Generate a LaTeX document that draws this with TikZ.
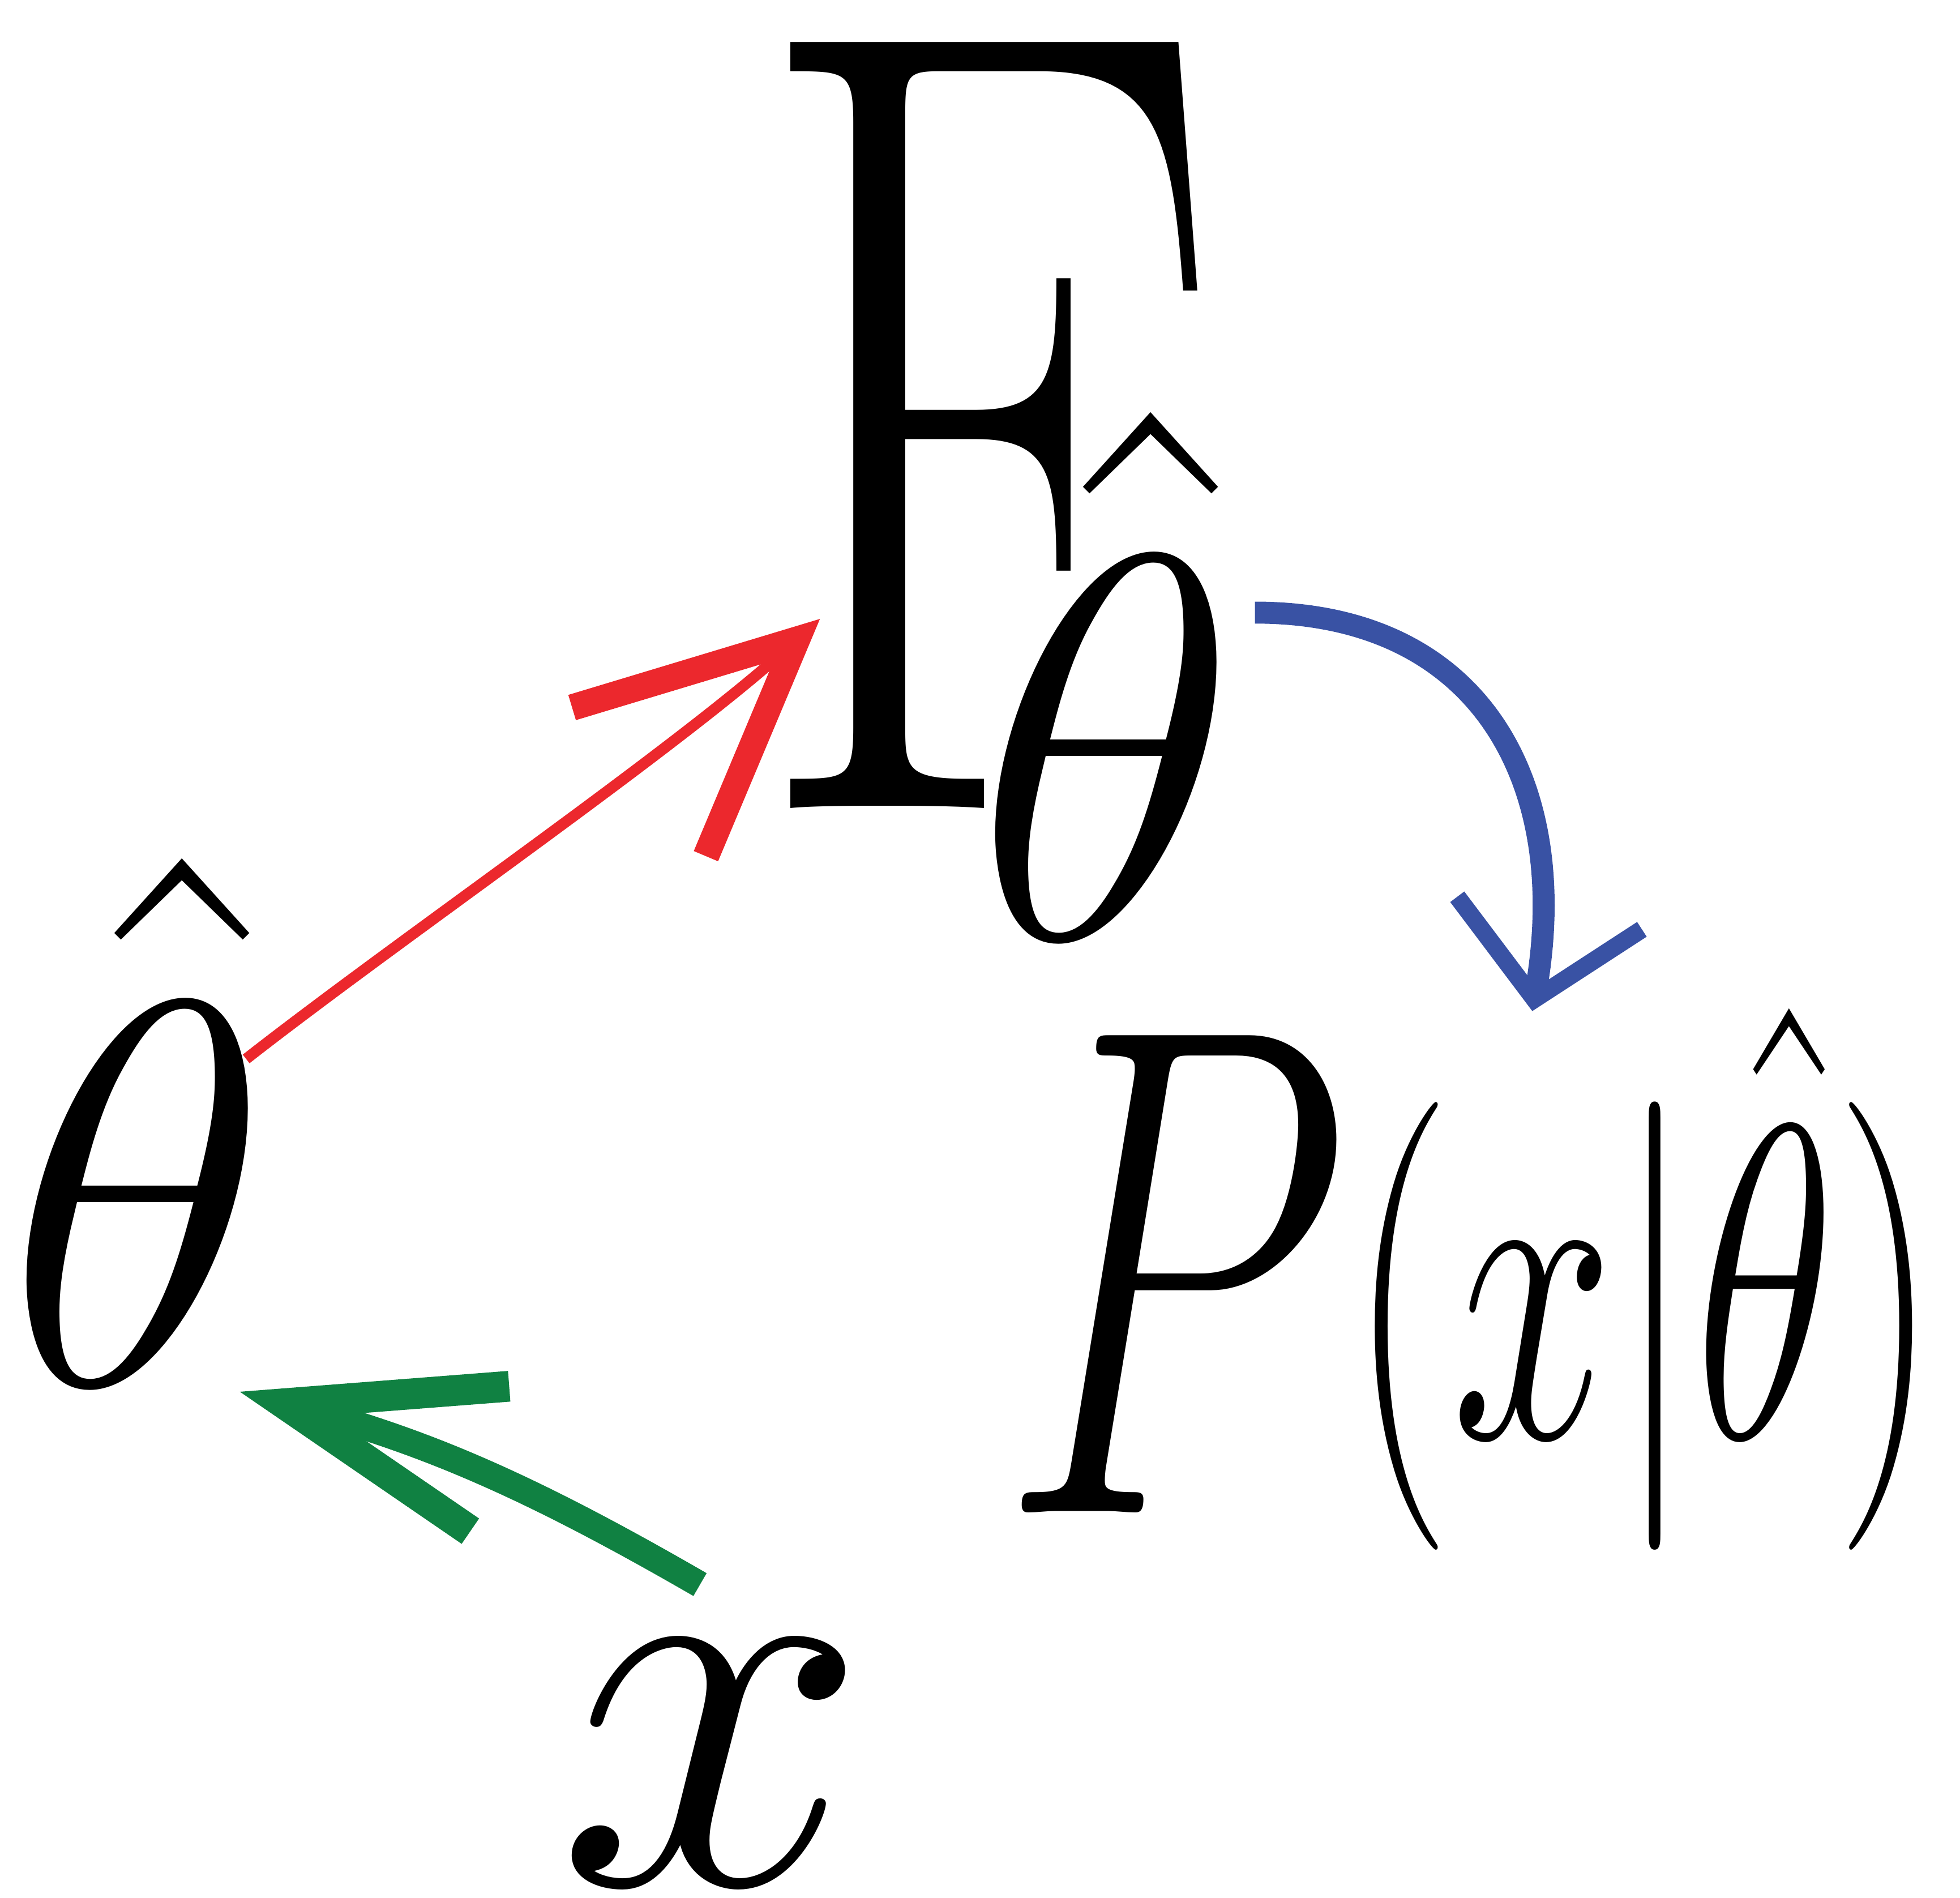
\RequirePackage{fix-cm}
\documentclass[tikz,border=0pt]{standalone}
\usetikzlibrary{arrows.meta}
\definecolor{ArrowRed}{HTML}{EC282D}
\definecolor{ArrowBlue}{HTML}{3952A4}
\definecolor{ArrowGreen}{HTML}{108142}

\begin{document}
\begin{tikzpicture}[inner sep=0pt,
    glyph/.style={font=\fontsize{#1}{#1}\selectfont},
    redline/.style={ArrowRed,line width=2.5pt,-{Straight Barb[length=1.7cm,width=1.6cm,line width=6pt]}},
    blueline/.style={ArrowBlue,line width=5pt,-{Straight Barb[length=0.7cm,width=1.5cm,line width=4pt]}},
    greenline/.style={ArrowGreen,line width=6pt,-{Straight Barb[length=1.7cm,width=1.2cm,line width=7pt]}}]
  \useasboundingbox (0,0) rectangle (15.68,-15.18);
  \node[glyph=256,xscale=0.7] (Fsym) at (7.9,-3.4) {F};
  \node[glyph=125] (Fsub) at (8.85,-5.4) {$\hat\theta$};
  \node[glyph=125] (thetaL) at (1.1,-8.97) {$\hat\theta$};
  \node[glyph=159,xscale=0.65,anchor=base west] (Plike) at (8.0,-11.5)
    {\raisebox{-0.6cm}{$P$}\fontsize{102}{102}\selectfont$(x|\hat\theta)$};
  \node[glyph=128] (xdata) at (5.7,-14.1) {$x$};
  \draw[redline] ([shift={(-0.2,0.5)}]thetaL.east) to[out=38,in=222,looseness=0.7] ([shift={(0.56,1.52)}]Fsym.south west);
  \draw[blueline] ([shift={(0.12,0.5)}]Fsub.east) to[out=0,in=80,looseness=1.2] ([shift={(0.5,-0.03)}]Plike.north);
  \draw[greenline] ([shift={(-0.1,0.45)}]xdata.north) to[out=150,in=-15] ([shift={(-0.25,-0.05)}]thetaL.south east);
\end{tikzpicture}
\end{document}
